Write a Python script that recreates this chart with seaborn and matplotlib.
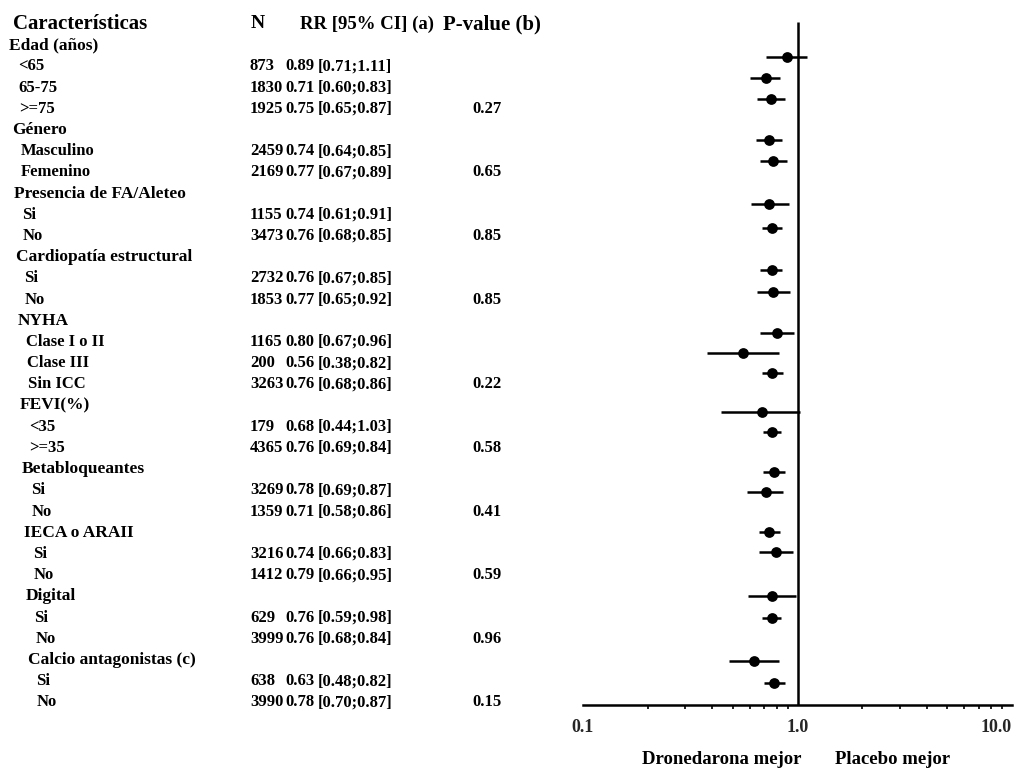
import numpy as np
import pandas as pd
import matplotlib
matplotlib.use("Agg")
import matplotlib.pyplot as plt
import seaborn as sns

# ---------------- data ----------------
groups = ["Edad (años)", "Género", "Presencia de FA/Aleteo", "Cardiopatía estructural",
          "NYHA", "FEVI(%)", "Betabloqueantes", "IECA o ARAII", "Digital",
          "Calcio antagonistas (c)"]
subgroups = [["<65", "65-75", ">=75"], ["Masculino", "Femenino"], ["Si", "No"], ["Si", "No"],
             ["Clase I o II", "Clase III", "Sin ICC"], ["<35", ">=35"], ["Si", "No"],
             ["Si", "No"], ["Si", "No"], ["Si", "No"]]
n_pat = [873, 1830, 1925, 2459, 2169, 1155, 3473, 2732, 1853, 1165, 200, 3263,
         179, 4365, 3269, 1359, 3216, 1412, 629, 3999, 638, 3990]
rr = [0.89, 0.71, 0.75, 0.74, 0.77, 0.74, 0.76, 0.76, 0.77, 0.80, 0.56, 0.76,
      0.68, 0.76, 0.78, 0.71, 0.74, 0.79, 0.76, 0.76, 0.63, 0.78]
ci_lo = [0.71, 0.60, 0.65, 0.64, 0.67, 0.61, 0.68, 0.67, 0.65, 0.67, 0.38, 0.68,
         0.44, 0.69, 0.69, 0.58, 0.66, 0.66, 0.59, 0.68, 0.48, 0.70]
ci_hi = [1.11, 0.83, 0.87, 0.85, 0.89, 0.91, 0.85, 0.85, 0.92, 0.96, 0.82, 0.86,
         1.03, 0.84, 0.87, 0.86, 0.83, 0.95, 0.98, 0.84, 0.82, 0.87]
p_values = ["0.27", "0.65", "0.85", "0.85", "0.22", "0.58", "0.41", "0.59", "0.96", "0.15"]
col_headers = ["Características", "N", "RR [95% CI] (a)", "P-value (b)"]
tick_vals = [0.1, 1.0, 10.0]
tick_labels = ["0.1", "1.0", "10.0"]
side_labels = ["Dronedarona mejor", "Placebo mejor"]

# ---------------- layout (pixels of the scanned page) ----------------
W, H = 1023, 771
text_top_px, text_step_px = 24, 21.2
point_row_px = [57, 78, 99, 140, 161, 204, 228, 270, 292, 333, 353, 373,
                412, 432, 472, 492, 532, 552, 596, 618, 661, 683]
col_n_px, col_rr_px, col_ci_px, col_p_px = 250, 285, 318, 472

sns.set_theme(style="white")
plt.rcParams["font.family"] = ["Liberation Serif", "DejaVu Serif"]

fig = plt.figure(figsize=(W / 100, H / 100), dpi=100)


def ftext(x, y, s, size=12, **kw):
    fig.text(x / W, 1 - y / H, s, fontsize=size, fontweight="bold",
             va="center", ha=kw.pop("ha", "left"), color="black", **kw)


# ---------------- table ----------------
ftext(13, text_top_px, col_headers[0], size=15)
ftext(251, text_top_px, col_headers[1], size=14)
ftext(300, text_top_px, col_headers[2], size=13.5)
ftext(443, text_top_px, col_headers[3], size=15)

line = 1
k = 0
for g, (gname, subs) in enumerate(zip(groups, subgroups)):
    gy = text_top_px + text_step_px * line
    ftext(8 + 0.03 * gy, gy, gname, size=12.5)
    line += 1
    for j, s in enumerate(subs):
        y = text_top_px + text_step_px * line
        ftext(16 + 0.03 * y, y, s, size=12)
        ftext(col_n_px, y, str(n_pat[k]), size=12)
        ftext(col_rr_px, y, f"{rr[k]:.2f}", size=12)
        ftext(col_ci_px, y, f"[{ci_lo[k]:.2f};{ci_hi[k]:.2f}]", size=12)
        if j == len(subs) - 1:
            ftext(col_p_px, y, p_values[g], size=12)
        k += 1
        line += 1

# ---------------- forest plot ----------------
df = pd.DataFrame({"rr": rr, "lo": ci_lo, "hi": ci_hi, "row": point_row_px})

ax_left, ax_right, ax_bottom = 583, 1012, 705
ax = fig.add_axes([ax_left / W, 1 - ax_bottom / H, (ax_right - ax_left) / W, ax_bottom / H])
ax.set_xscale("log")
ax.set_xlim(tick_vals[0], tick_vals[-1])
ax.set_ylim(ax_bottom, 0)

ax.hlines(df["row"], df["lo"], df["hi"], color="black", lw=1.8, zorder=2)
sns.scatterplot(data=df, x="rr", y="row", ax=ax, color="black", s=60,
                edgecolor="black", linewidth=0, zorder=3, legend=False)
ax.vlines(1.0, 22, ax_bottom, color="black", lw=1.8, zorder=1)

for side in ["top", "right", "left"]:
    ax.spines[side].set_visible(False)
ax.spines["bottom"].set_linewidth(1.8)
ax.spines["bottom"].set_color("black")
ax.set_yticks([])
ax.set_xticks(tick_vals)
ax.set_xticklabels(tick_labels)
ax.xaxis.set_minor_locator(matplotlib.ticker.LogLocator(base=10, subs=np.arange(2, 10)))
ax.xaxis.set_minor_formatter(matplotlib.ticker.NullFormatter())
ax.tick_params(axis="x", which="major", direction="out", length=6, width=1.6,
               color="black", pad=4, labelsize=13)
ax.tick_params(axis="x", which="minor", direction="out", length=3, width=1.2,
               color="black", bottom=True)
ticklbls = ax.get_xticklabels()
for lbl in ticklbls:
    lbl.set_fontweight("bold")
ticklbls[-1].set_horizontalalignment("right")
ax.set_xlabel("")
ax.set_ylabel("")
ax.patch.set_alpha(0)

ftext(722, 760, side_labels[0], size=13.5, ha="center")
ftext(893, 760, side_labels[1], size=13.5, ha="center")

fig.savefig("out.png", dpi=100)
